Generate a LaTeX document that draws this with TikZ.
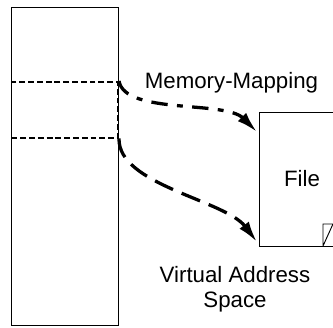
\documentclass[tikz,border=0pt]{standalone}
\usepackage{fontspec}
\setmainfont{Liberation Sans}
\usetikzlibrary{arrows.meta}

\begin{document}
\begin{tikzpicture}[
  x=0.3mm, y=-0.3mm,
  txt/.style={font=\fontsize{19pt}{21pt}\selectfont,align=center},
  box/.style={draw,line width=0.8pt,inner sep=0pt},
  mapping/.style={-{Latex[length=18pt,width=10pt]},line width=2.8pt}
]
  \useasboundingbox (0,0) rectangle (333,327);
  \clip (0,0) rectangle (333,327);

  \node[box,minimum width=3.195cm,minimum height=9.555cm] (space) at (64.75,166.25) {};
  \node[box,line width=1.7pt,dash pattern=on 5pt off 2.5pt,
        minimum width=3.195cm,minimum height=1.665cm] (region) at (64.75,109.75) {};
  \node[box,txt,minimum width=2.58cm,minimum height=4.02cm] (file) at (302,179) {File};

  % dog-ear of the file
  \draw[line width=0.8pt] (323,246) |- (333,224) (323,246) -- (333,224);

  \node[txt,anchor=base] (title) at (231.5,88) {Memory-Mapping};
  \node[txt] (vaslabel) at (235,289) {Virtual Address\\Space};

  \coordinate (hitA) at (257,132);
  \coordinate (hitB) at (257,242);

  \draw[mapping,dash pattern=on 14pt off 8pt on 5pt off 8pt]
    (region.north east) .. controls (125,115) and (225,100) .. (hitA);
  \draw[mapping,dash pattern=on 17pt off 8pt]
    (region.south east) .. controls (118,185) and (225,200) .. (hitB);
\end{tikzpicture}
\end{document}
